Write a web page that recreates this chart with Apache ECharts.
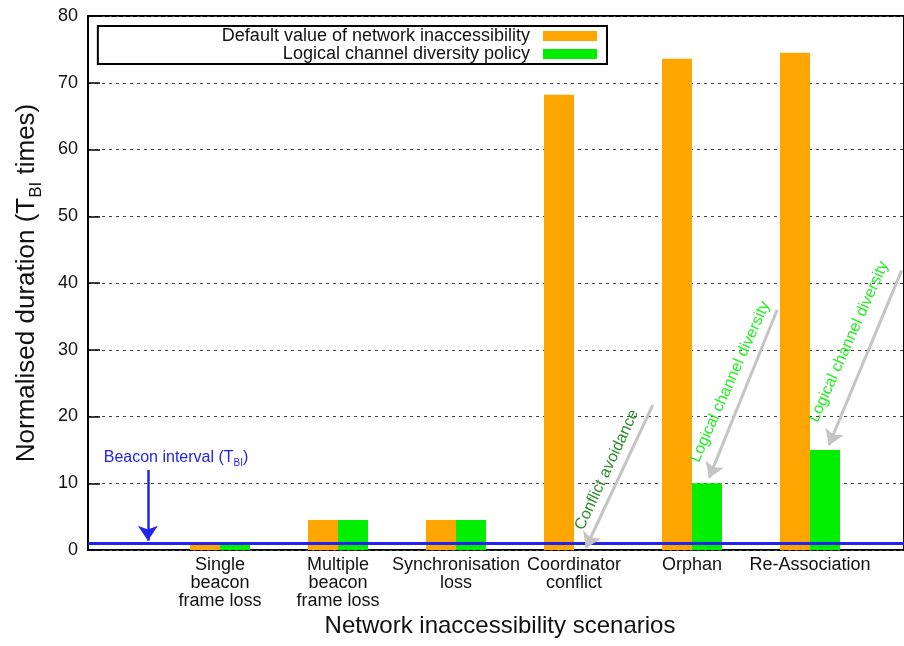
<!DOCTYPE html>
<html>
<head>
<meta charset="utf-8">
<script src="https://cdn.jsdelivr.net/npm/echarts@6/dist/echarts.min.js"></script>
<style>
  html, body { margin: 0; padding: 0; background: #fff; }
  #chart { width: 904px; height: 646px; }
</style>
</head>
<body>
<div id="chart"></div>
<script>
// Scenario categories (x axis) and normalised durations in beacon intervals
const categories = [
  'Single\nbeacon\nframe loss',
  'Multiple\nbeacon\nframe loss',
  'Synchronisation\nloss',
  'Coordinator\nconflict',
  'Orphan',
  'Re-Association'
];
const defaultInaccessibility = [1, 4.5, 4.5, 68.2, 73.6, 74.5];
const channelDiversity = [1, 4.5, 4.5, 0, 10, 15];
const seriesNames = ['Default value of network inaccessibility', 'Logical channel diversity policy'];
const yMin = 0, yMax = 80, yStep = 10;
const beaconInterval = 1;

// Frame x range in category units (category k is centred on k)
const xMin = -1.12, xMax = 5.83;

// Annotation arrows and their captions, in category units (x) and T_BI units (y)
const beaconArrow = [[-0.61, 12.0], [-0.61, 1.4]];
const beaconLabelAt = [-0.37, 13.9];
const noteArrows = [
  { text: 'Conflict avoidance', color: '#2e8b2e', from: [3.69, 21.7], to: [3.12, 0.3], at: [3.30, 12.0], angle: 65 },
  { text: 'Logical channel diversity', color: '#22ee22', from: [4.75, 36.0], to: [4.17, 10.8], at: [4.35, 25.2], angle: 66 },
  { text: 'Logical channel diversity', color: '#22ee22', from: [5.81, 41.9], to: [5.19, 15.7], at: [5.36, 31.2], angle: 66 }
];

const FONT = '"Liberation Sans", Arial, Helvetica, sans-serif';
const ORANGE = '#ffa500';
const GREEN = '#00ee00';
const BLUE = '#2323f0';

const chart = echarts.init(document.getElementById('chart'), null, { renderer: 'canvas' });

const option = {
  animation: false,
  backgroundColor: '#fff',
  textStyle: { fontFamily: FONT },
  grid: [
    // frame: y scale, grid lines, border, annotations
    { left: 88, right: -4, top: 16, bottom: 96, show: true, borderColor: '#000', borderWidth: 2, containLabel: false },
    // bars with category labels
    { left: 161, right: 35, top: 16, bottom: 96, containLabel: false }
  ],
  legend: {
    data: seriesNames,
    orient: 'vertical',
    align: 'right',
    right: 297,
    top: 26,
    itemWidth: 54,
    itemHeight: 10,
    itemGap: 0,
    icon: 'rect',
    padding: [1, 10, 1, 124],
    borderColor: '#000',
    borderWidth: 2,
    backgroundColor: '#fff',
    textStyle: { fontFamily: FONT, fontSize: 18, lineHeight: 18, color: '#111', padding: [0, 8, 0, 0] }
  },
  xAxis: [
    {
      type: 'value', gridIndex: 0, min: xMin, max: xMax,
      axisLine: { show: false }, axisTick: { show: false }, axisLabel: { show: false },
      splitLine: { show: false },
      name: 'Network inaccessibility scenarios',
      nameLocation: 'middle',
      nameGap: 64,
      nameTextStyle: { fontFamily: FONT, fontSize: 24, color: '#111', verticalAlign: 'top', padding: [0, 0, 0, 8] }
    },
    {
      type: 'category', gridIndex: 1, data: categories,
      axisLine: { show: false }, axisTick: { show: false },
      axisLabel: { interval: 0, margin: 6, fontFamily: FONT, fontSize: 18, lineHeight: 18, color: '#111' }
    }
  ],
  yAxis: [
    {
      type: 'value', gridIndex: 0, min: yMin, max: yMax, interval: yStep,
      axisLine: { show: true, onZero: false, lineStyle: { color: '#000', width: 2 } },
      axisTick: { show: true, inside: true, length: 12, lineStyle: { color: '#000', width: 1.5 } },
      axisLabel: { margin: 10, fontFamily: FONT, fontSize: 18, color: '#111' },
      splitLine: { show: true, lineStyle: { color: '#444', width: 1.2, type: [3, 4] } },
      name: '{a|Normalised duration (T}{s|BI}{a| times)}',
      nameLocation: 'middle',
      nameRotate: 90,
      nameGap: 48,
      nameTextStyle: {
        rich: {
          a: { fontFamily: FONT, fontSize: 26, color: '#111', verticalAlign: 'bottom' },
          s: { fontFamily: FONT, fontSize: 17, color: '#111', verticalAlign: 'bottom', padding: [0, 0, -5, 0] }
        }
      }
    },
    {
      type: 'value', gridIndex: 1, min: yMin, max: yMax, interval: yStep, show: false
    }
  ],
  series: [
    {
      name: seriesNames[0], type: 'bar', xAxisIndex: 1, yAxisIndex: 1,
      data: defaultInaccessibility, barWidth: 30, barGap: '0%',
      itemStyle: { color: ORANGE }
    },
    {
      name: seriesNames[1], type: 'bar', xAxisIndex: 1, yAxisIndex: 1,
      data: channelDiversity, barWidth: 30, barGap: '0%',
      itemStyle: { color: GREEN }
    },
    {
      // beacon interval reference line and annotations
      name: 'notes', type: 'scatter', xAxisIndex: 0, yAxisIndex: 0, data: [], z: 5,
      silent: true,
      markLine: {
        silent: true,
        symbol: ['none', 'arrow'],
        symbolSize: 15,
        label: { show: false },
        data: [
          [
            { coord: [xMin, beaconInterval], symbol: 'none', lineStyle: { color: BLUE, width: 3, type: 'solid' } },
            { coord: [xMax, beaconInterval], symbol: 'none' }
          ],
          [
            { coord: beaconArrow[0], lineStyle: { color: BLUE, width: 2.5, type: 'solid' } },
            { coord: beaconArrow[1] }
          ]
        ].concat(noteArrows.map(n => [
          { coord: n.from, lineStyle: { color: '#c4c4c4', width: 3, type: 'solid' } },
          { coord: n.to }
        ]))
      },
      markPoint: {
        silent: true,
        symbol: 'circle', symbolSize: 1,
        itemStyle: { color: 'rgba(0,0,0,0)' },
        data: [
          {
            coord: beaconLabelAt,
            label: {
              show: true, position: 'inside',
              formatter: '{a|Beacon interval (T}{s|BI}{a|)}',
              rich: {
                a: { fontFamily: FONT, fontSize: 16, color: BLUE, verticalAlign: 'bottom' },
                s: { fontFamily: FONT, fontSize: 10, color: BLUE, verticalAlign: 'bottom', padding: [0, 0, -3, 0] }
              }
            }
          }
        ].concat(noteArrows.map(n => ({
          coord: n.at,
          label: {
            show: true, position: 'inside', rotate: n.angle,
            formatter: n.text, color: n.color, fontFamily: FONT, fontSize: 16
          }
        })))
      }
    }
  ]
};

chart.setOption(option);
</script>
</body>
</html>
